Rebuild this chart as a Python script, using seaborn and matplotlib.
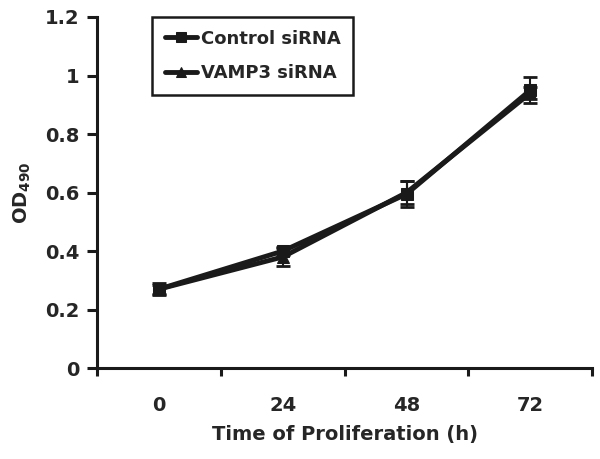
import numpy as np
import pandas as pd
import matplotlib
matplotlib.use("Agg")
import matplotlib.pyplot as plt
import seaborn as sns

# data
hours = ["0", "24", "48", "72"]
control = [0.27, 0.40, 0.595, 0.95]
control_err = [0.015, 0.015, 0.045, 0.045]
vamp3 = [0.27, 0.38, 0.60, 0.94]
vamp3_err = [0.02, 0.03, 0.04, 0.02]

sns.set_style("ticks")
plt.rcParams['font.family'] = ['DejaVu Sans']
plt.rcParams['font.weight'] = 'bold'

pos = np.arange(len(hours))
df = pd.DataFrame({
    "pos": np.concatenate([pos, pos]),
    "od": control + vamp3,
    "group": ["Control siRNA"] * 4 + ["VAMP3 siRNA"] * 4,
})

fig = plt.figure(figsize=(6, 4.59), dpi=100)
ax = fig.add_axes([0.162, 0.198, 0.825, 0.765])

sns.lineplot(data=df, x="pos", y="od", hue="group", style="group",
             markers={"Control siRNA": "s", "VAMP3 siRNA": "^"}, dashes=False,
             palette=["#1a1a1a", "#1a1a1a"], linewidth=3.5, markersize=9,
             markeredgecolor="#1a1a1a", ax=ax)
ax.errorbar(pos, control, yerr=control_err, fmt="none", ecolor="#1a1a1a",
            elinewidth=1.5, capsize=5, capthick=2)
ax.errorbar(pos, vamp3, yerr=vamp3_err, fmt="none", ecolor="#1a1a1a",
            elinewidth=1.5, capsize=5, capthick=2)

ax.set_xlim(-0.5, 3.5)
ax.set_ylim(0, 1.2)
ax.set_xticks(pos)
ax.set_xticklabels(hours)
ax.set_xticks(np.arange(-0.5, 4, 1), minor=True)
ax.tick_params(axis="x", which="major", length=0, pad=20, labelsize=14)
ax.tick_params(axis="x", which="minor", length=6, width=2.2, color="#1a1a1a")
ax.set_yticks([0, 0.2, 0.4, 0.6, 0.8, 1.0, 1.2])
ax.set_yticklabels(["0", "0.2", "0.4", "0.6", "0.8", "1", "1.2"])
ax.tick_params(axis="y", direction="out", length=7, width=2.2, labelsize=14,
               color="#1a1a1a", pad=6)
for s in ["top", "right"]:
    ax.spines[s].set_visible(False)
for s in ["left", "bottom"]:
    ax.spines[s].set_linewidth(2.2)
    ax.spines[s].set_color("#1a1a1a")

ax.set_xlabel("Time of Proliferation (h)", fontsize=14, fontweight="bold", labelpad=7)
ax.set_ylabel("OD$_{\\mathbf{490}}$", fontsize=14, fontweight="bold", labelpad=8)

leg = ax.legend(loc="upper left", bbox_to_anchor=(152 / 600, 1 - 17 / 459),
                bbox_transform=fig.transFigure, borderaxespad=0, fontsize=13,
                frameon=True, fancybox=False, edgecolor="#1a1a1a", framealpha=1,
                handlelength=1.8, handletextpad=0.2, borderpad=0.7,
                labelspacing=0.9, markerscale=0.8)
leg.get_frame().set_linewidth(1.8)
leg.set_title(None)

plt.savefig("out.png", dpi=100)
